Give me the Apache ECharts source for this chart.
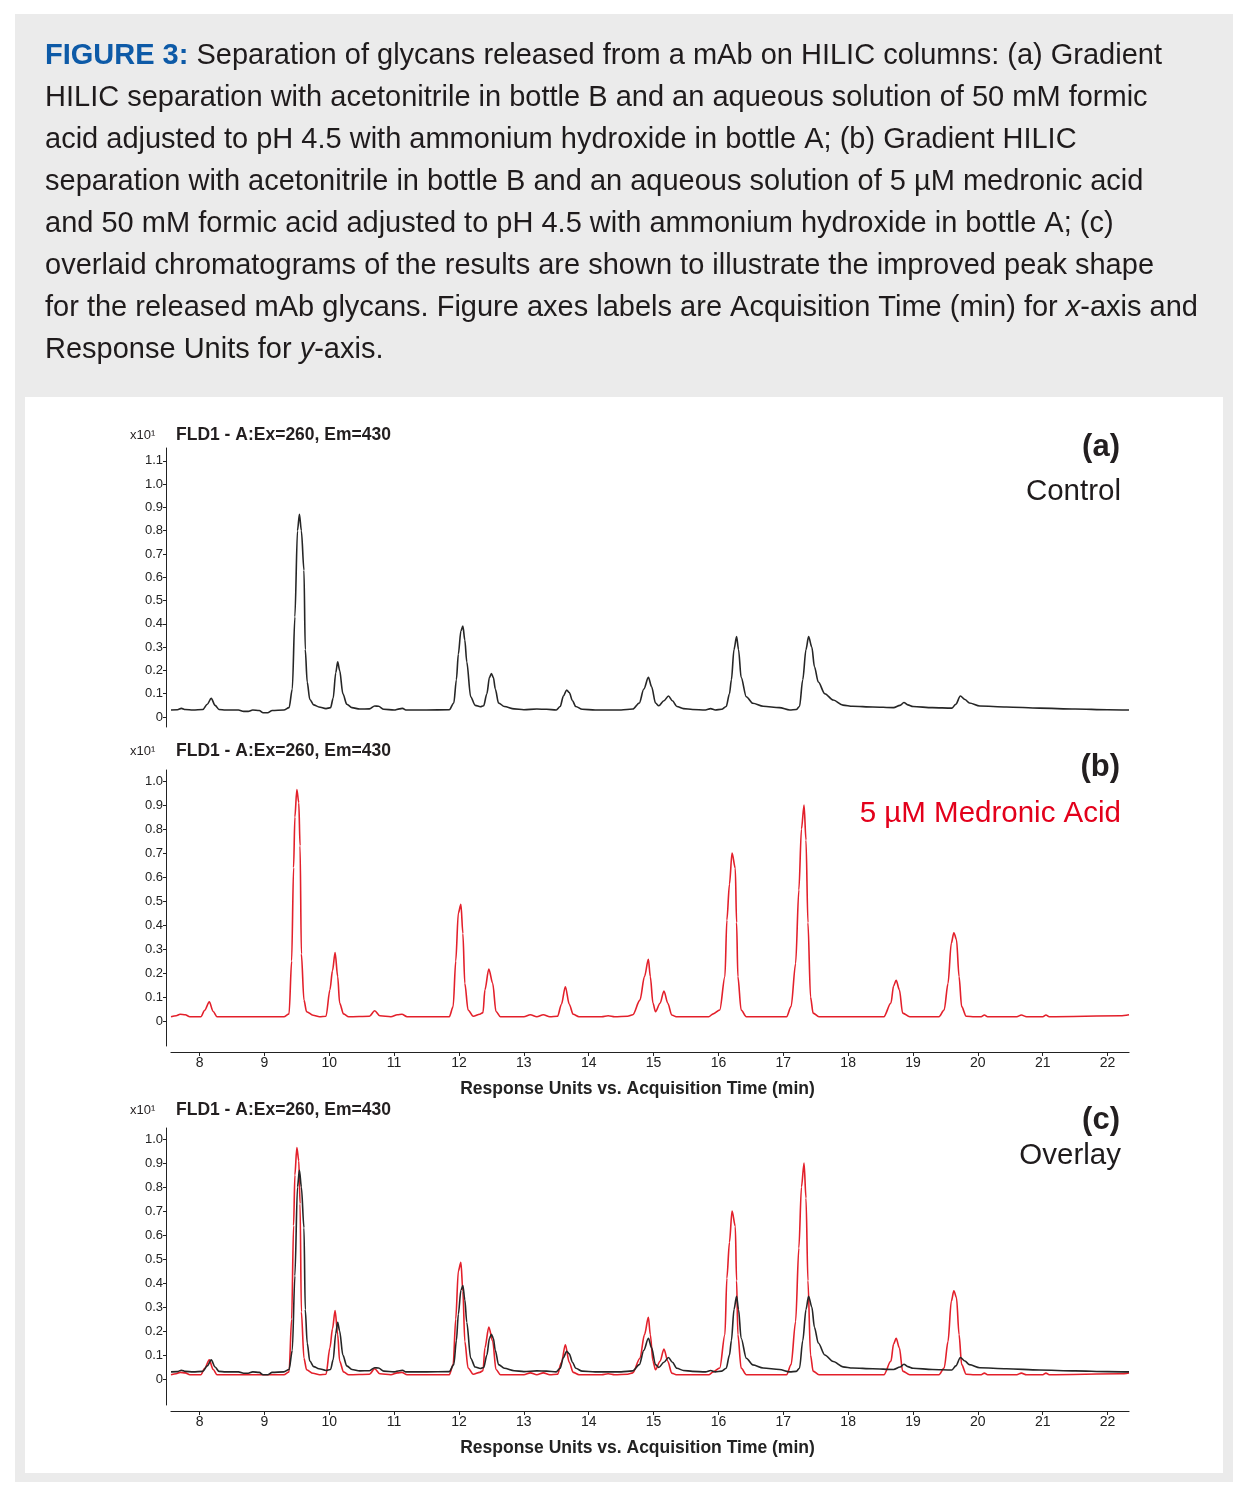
<!DOCTYPE html>
<html>
<head>
<meta charset="utf-8">
<script src="https://cdn.jsdelivr.net/npm/echarts@6/dist/echarts.min.js"></script>
<style>
html,body{margin:0;padding:0;background:#fff;}
#c{width:1254px;height:1494px;}
</style>
</head>
<body>
<div id="c"></div>
<script>
// ---------- DATA ----------
// Control trace (a): [time (min), response (x10^1)]
const controlTrace = [
[7.56,0.030],[7.66,0.031],[7.72,0.037],[7.78,0.032],[7.90,0.030],
[8.05,0.032],[8.12,0.055],[8.18,0.080],[8.24,0.050],[8.30,0.032],[8.40,0.030],
[8.60,0.030],[8.68,0.024],[8.75,0.024],[8.82,0.030],[8.92,0.028],[8.98,0.018],[9.05,0.018],[9.12,0.028],[9.30,0.030],
[9.38,0.040],[9.43,0.12],[9.47,0.43],[9.51,0.80],[9.54,0.87],[9.57,0.80],[9.61,0.63],[9.63,0.29],[9.66,0.15],[9.70,0.075],[9.76,0.052],[9.84,0.043],[9.95,0.036],[10.02,0.040],
[10.06,0.08],[10.10,0.19],[10.13,0.237],[10.16,0.20],[10.21,0.10],[10.27,0.055],[10.35,0.040],[10.47,0.034],
[10.62,0.035],[10.70,0.047],[10.76,0.046],[10.84,0.033],[11.00,0.030],[11.08,0.035],[11.13,0.037],[11.18,0.030],
[11.50,0.030],[11.85,0.031],[11.92,0.06],[11.96,0.16],[11.99,0.27],[12.03,0.37],[12.06,0.39],[12.09,0.33],[12.12,0.237],[12.18,0.087],[12.25,0.050],[12.33,0.044],[12.38,0.048],
[12.43,0.10],[12.47,0.17],[12.50,0.187],[12.53,0.17],[12.56,0.12],[12.61,0.06],[12.70,0.045],[12.85,0.035],[13.00,0.031],
[13.20,0.034],[13.35,0.033],[13.50,0.030],[13.56,0.045],[13.61,0.09],[13.66,0.116],[13.70,0.105],[13.75,0.07],[13.80,0.045],[13.90,0.033],[14.10,0.030],
[14.50,0.030],[14.68,0.034],[14.78,0.06],[14.85,0.12],[14.92,0.17],[14.97,0.13],[15.03,0.06],[15.08,0.048],[15.16,0.07],[15.23,0.09],[15.29,0.07],[15.36,0.045],[15.46,0.036],[15.60,0.032],[15.80,0.030],[15.88,0.036],[15.95,0.030],[16.05,0.033],
[16.12,0.045],[16.17,0.10],[16.20,0.16],[16.24,0.29],[16.28,0.345],[16.31,0.29],[16.35,0.17],[16.43,0.087],[16.53,0.059],[16.69,0.046],[16.94,0.040],[17.10,0.030],[17.20,0.032],
[17.25,0.045],[17.30,0.16],[17.35,0.29],[17.39,0.345],[17.44,0.30],[17.48,0.216],[17.54,0.15],[17.64,0.10],[17.77,0.073],[17.92,0.051],[18.07,0.046],[18.38,0.043],[18.70,0.040],
[18.80,0.050],[18.86,0.062],[18.92,0.052],[19.00,0.045],[19.30,0.040],[19.60,0.038],[19.66,0.055],[19.73,0.09],[19.80,0.075],[19.87,0.060],[20.03,0.047],[20.44,0.043],[20.95,0.038],[21.50,0.034],[22.00,0.031],[22.33,0.030]
];
// 5 uM medronic acid trace (b)
const medronicTrace = [
[7.56,0.018],[7.64,0.022],[7.70,0.028],[7.78,0.026],[7.85,0.018],[8.02,0.018],[8.08,0.045],[8.15,0.080],[8.21,0.040],[8.27,0.018],
[9.30,0.018],[9.38,0.030],[9.42,0.25],[9.45,0.64],[9.47,0.85],[9.50,0.965],[9.53,0.91],[9.55,0.73],[9.57,0.28],[9.61,0.087],[9.65,0.039],[9.75,0.024],[9.85,0.018],[9.95,0.020],
[10.01,0.13],[10.05,0.21],[10.09,0.285],[10.13,0.185],[10.16,0.075],[10.22,0.030],[10.30,0.018],
[10.62,0.020],[10.70,0.043],[10.78,0.022],[10.95,0.018],[11.05,0.026],[11.12,0.028],[11.20,0.018],
[11.85,0.018],[11.91,0.06],[11.95,0.25],[11.99,0.45],[12.03,0.486],[12.06,0.365],[12.09,0.157],[12.14,0.046],[12.22,0.020],[12.32,0.028],[12.37,0.035],
[12.40,0.13],[12.46,0.217],[12.52,0.157],[12.57,0.040],[12.64,0.018],
[13.00,0.018],[13.10,0.026],[13.20,0.018],[13.30,0.026],[13.40,0.018],[13.52,0.020],[13.58,0.07],[13.64,0.143],[13.70,0.07],[13.76,0.028],[13.85,0.018],
[14.20,0.018],[14.30,0.022],[14.40,0.018],[14.60,0.020],[14.68,0.026],[14.79,0.087],[14.86,0.185],[14.92,0.257],[14.95,0.185],[14.99,0.075],[15.03,0.039],[15.10,0.074],[15.16,0.125],[15.22,0.074],[15.28,0.025],[15.35,0.018],
[15.85,0.018],[15.92,0.030],[16.02,0.046],[16.10,0.185],[16.13,0.42],[16.17,0.57],[16.21,0.70],[16.26,0.636],[16.28,0.41],[16.30,0.185],[16.35,0.046],[16.43,0.018],
[17.05,0.018],[17.12,0.06],[17.19,0.24],[17.24,0.546],[17.28,0.80],[17.32,0.90],[17.35,0.754],[17.38,0.41],[17.42,0.10],[17.46,0.033],[17.55,0.018],
[18.55,0.018],[18.66,0.075],[18.70,0.146],[18.74,0.17],[18.79,0.13],[18.84,0.033],[18.95,0.018],
[19.40,0.018],[19.48,0.046],[19.54,0.157],[19.59,0.324],[19.63,0.368],[19.67,0.34],[19.71,0.185],[19.75,0.06],[19.82,0.020],[19.95,0.018],
[20.05,0.018],[20.10,0.025],[20.15,0.018],[20.60,0.018],[20.67,0.025],[20.75,0.018],[21.00,0.018],[21.05,0.025],[21.10,0.018],[22.20,0.022],[22.33,0.026]
];
// Tick labels
const xTicks = [8,9,10,11,12,13,14,15,16,17,18,19,20,21,22];
const yTicksA = [0,0.1,0.2,0.3,0.4,0.5,0.6,0.7,0.8,0.9,1.0,1.1];
const yTicksBC = [0,0.1,0.2,0.3,0.4,0.5,0.6,0.7,0.8,0.9,1.0];
const panelTitle = 'FLD1 - A:Ex=260, Em=430';
const xAxisTitle = 'Response Units vs. Acquisition Time (min)';
const captionLines = [
  [['b','FIGURE 3:'],['n',' Separation of glycans released from a mAb on HILIC columns: (a) Gradient']],
  [['n','HILIC separation with acetonitrile in bottle B and an aqueous solution of 50 mM formic']],
  [['n','acid adjusted to pH 4.5 with ammonium hydroxide in bottle A; (b) Gradient HILIC']],
  [['n','separation with acetonitrile in bottle B and an aqueous solution of 5 \u00b5M medronic acid']],
  [['n','and 50 mM formic acid adjusted to pH 4.5 with ammonium hydroxide in bottle A; (c)']],
  [['n','overlaid chromatograms of the results are shown to illustrate the improved peak shape']],
  [['n','for the released mAb glycans. Figure axes labels are Acquisition Time (min) for '],['i','x'],['n','-axis and']],
  [['n','Response Units for '],['i','y'],['n','-axis.']]
];

// ---------- CHART ----------
const FONT = '"Liberation Sans", Arial, Helvetica, sans-serif';
const BLACK = '#262626';
const RED = '#e3202b';
const X_MIN = 7.56, X_MAX = 22.33;
const GL = 171, GW = 958;

function fmtY(v){ return v === 0 ? '0' : v.toFixed(1); }

function yAxisCfg(idx, min, max, ticks){
  return {
    type:'value', gridIndex: idx, min: min, max: max, offset: 5,
    axisLine:{show:true, lineStyle:{color:'#222', width:1}},
    axisTick:{show:true, length:3, customValues: ticks, lineStyle:{color:'#222'}},
    axisLabel:{show:true, customValues: ticks, formatter: fmtY, fontFamily: FONT, fontSize: 13, color:'#222', margin: 3},
    splitLine:{show:false}
  };
}
function xAxisCfg(idx, show){
  return {
    type:'value', gridIndex: idx, min: X_MIN, max: X_MAX, show: show, offset: 6,
    axisLine:{show:true, onZero:false, lineStyle:{color:'#222', width:1.2}},
    axisTick:{show:true, length:4, customValues: xTicks, lineStyle:{color:'#222'}},
    axisLabel:{show:true, customValues: xTicks, fontFamily: FONT, fontSize: 14, color:'#222', margin: 4},
    splitLine:{show:false},
    name: show ? xAxisTitle : '', nameLocation:'middle', nameGap: 28,
    nameTextStyle:{fontFamily: FONT, fontSize: 17.5, fontWeight:'bold', color:'#222', padding:[0,25,0,0]}
  };
}

const graphics = [
  {type:'rect', shape:{x:15, y:14, width:1218, height:1468}, style:{fill:'#ebebeb'}, z:-10, silent:true},
  {type:'rect', shape:{x:25, y:397, width:1198, height:1076}, style:{fill:'#ffffff'}, z:-9, silent:true}
];
captionLines.forEach(function(parts, i){
  const txt = parts.map(function(p){ return '{' + p[0] + '|' + p[1] + '}'; }).join('');
  graphics.push({
    type:'text', x:45, y:56 + 42*i, z:10,
    style:{
      text: txt, verticalAlign:'middle', align:'left',
      rich:{
        b:{fontFamily: FONT, fontSize:29, fontWeight:'bold', fill:'#0d5aa7'},
        n:{fontFamily: FONT, fontSize:29, fill:'#1f1b1c'},
        i:{fontFamily: FONT, fontSize:29, fontStyle:'italic', fill:'#1f1b1c'}
      }
    }
  });
});
const panelHeads = [
  {y:435, tag:'(a)', tagY:447, sub:'Control', subY:492, subColor:'#1f1b1c'},
  {y:751, tag:'(b)', tagY:767, sub:'5 \u00b5M Medronic Acid', subY:814, subColor:'#e3001b'},
  {y:1110, tag:'(c)', tagY:1120, sub:'Overlay', subY:1156, subColor:'#1f1b1c'}
];
panelHeads.forEach(function(h){
  graphics.push({type:'text', x:130, y:h.y, z:10, style:{text:'x10\u00b9', fontFamily: FONT, fontSize:13, fill:'#231f20', verticalAlign:'middle'}});
  graphics.push({type:'text', x:176, y:h.y, z:10, style:{text: panelTitle, fontFamily: FONT, fontSize:17.5, fontWeight:'bold', fill:'#231f20', verticalAlign:'middle'}});
  graphics.push({type:'text', x:1120, y:h.tagY, z:10, style:{text: h.tag, fontFamily: FONT, fontSize:31, fontWeight:'bold', fill:'#231f20', verticalAlign:'middle', align:'right'}});
  graphics.push({type:'text', x:1121, y:h.subY, z:10, style:{text: h.sub, fontFamily: FONT, fontSize:29.5, fill:h.subColor, verticalAlign:'middle', align:'right'}});
});

const option = {
  animation:false,
  backgroundColor:'#ffffff',
  graphic: graphics,
  grid:[
    {left:GL, width:GW, top:448, height:279},
    {left:GL, width:GW, top:770, height:276},
    {left:GL, width:GW, top:1128, height:277}
  ],
  xAxis:[ xAxisCfg(0,false), xAxisCfg(1,true), xAxisCfg(2,true) ],
  yAxis:[
    yAxisCfg(0, -0.043, 1.155, yTicksA),
    yAxisCfg(1, -0.104, 1.046, yTicksBC),
    yAxisCfg(2, -0.108, 1.046, yTicksBC)
  ],
  series:[
    {type:'line', name:'Control', xAxisIndex:0, yAxisIndex:0, data: controlTrace, showSymbol:false, smooth:0.3, smoothMonotone:'x', lineStyle:{color:BLACK, width:1.6}, z:3},
    {type:'line', name:'5 uM Medronic Acid', xAxisIndex:1, yAxisIndex:1, data: medronicTrace, showSymbol:false, smooth:0.3, smoothMonotone:'x', lineStyle:{color:RED, width:1.6}, z:3},
    {type:'line', name:'Overlay medronic', xAxisIndex:2, yAxisIndex:2, data: medronicTrace, showSymbol:false, smooth:0.3, smoothMonotone:'x', lineStyle:{color:RED, width:1.6}, z:3},
    {type:'line', name:'Overlay control', xAxisIndex:2, yAxisIndex:2, data: controlTrace, showSymbol:false, smooth:0.3, smoothMonotone:'x', lineStyle:{color:BLACK, width:1.6}, z:4}
  ]
};
const chart = echarts.init(document.getElementById('c'), null, {renderer:'canvas', width:1254, height:1494});
chart.setOption(option);
</script>
</body>
</html>
